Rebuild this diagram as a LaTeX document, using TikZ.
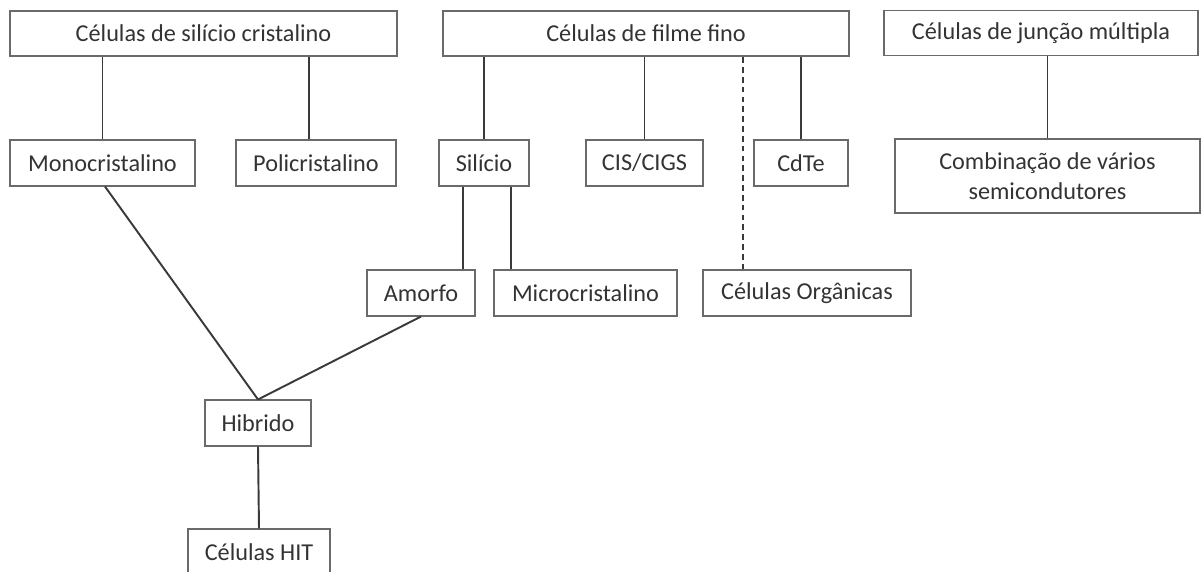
\documentclass[tikz,border=0pt]{standalone}
\usepackage{fontspec}
\setmainfont{Carlito}
\usepackage{xcolor}
\definecolor{boxline}{HTML}{6A6A6A}
\definecolor{edgeline}{HTML}{3A3A3A}
\definecolor{txt}{HTML}{333333}

\begin{document}
\begin{tikzpicture}[
		main node/.style={rectangle,draw=boxline,line width=0.6pt,inner sep=0pt,text=txt,
			minimum height=0.92cm,font=\fontsize{13.8}{17}\selectfont,align=center},
		edge/.style={draw=edgeline,line width=1.1pt}]

			\useasboundingbox (0,0) rectangle (24.02,-11.42);

			% Top level
			\node[main node,minimum width=7.74cm,minimum height=0.9cm] (crist) at (4.07,-0.67) {Células de silício cristalino};
			\node[main node,minimum width=8.12cm,minimum height=0.9cm] (fino) at (12.92,-0.67) {Células de filme fino};
			\node[main node,minimum width=6.28cm,minimum height=0.9cm] (juncao) at (20.82,-0.66) {Células de junção múltipla};

			% Second level
			\node[main node,minimum width=3.70cm] (mono) at (2.05,-3.26) {Monocristalino};
			\node[main node,minimum width=3.20cm] (poli) at (6.32,-3.26) {Policristalino};
			\node[main node,minimum width=1.80cm] (silicio) at (9.68,-3.26) {Silício};
			\node[main node,minimum width=2.34cm] (cis) at (12.89,-3.26) {CIS/CIGS};
			\node[main node,minimum width=1.88cm] (cdte) at (16.02,-3.26) {CdTe};
			\node[main node,minimum width=6.10cm,minimum height=1.48cm] (comb) at (20.95,-3.52) {Combinação de vários\\semicondutores};

			% Third level
			\node[main node,minimum width=2.16cm] (amorfo) at (8.42,-5.86) {Amorfo};
			\node[main node,minimum width=3.66cm] (micro) at (11.71,-5.86) {Microcristalino};
			\node[main node,minimum width=4.16cm] (organ) at (16.14,-5.86) {Células Orgânicas};

			% Bottom
			\node[main node,minimum width=2.12cm] (hibrido) at (5.16,-8.46) {Hibrido};
			\node[main node,minimum width=2.84cm] (hit) at (5.18,-11.04) {Células HIT};

			% Edges
			\draw[edge] (mono.north) -- (mono.north |- crist.south);
			\draw[edge] ([xshift=-0.14cm]poli.north) coordinate (p1) -- (p1 |- crist.south);
			\draw[edge] (silicio.north) -- (silicio.north |- fino.south);
			\draw[edge] (cis.north) -- (cis.north |- fino.south);
			\draw[edge] (cdte.north) -- (cdte.north |- fino.south);
			\draw[edge,dash pattern=on 3.2pt off 2.4pt] ([xshift=-1.28cm]organ.north) coordinate (p2) -- (p2 |- fino.south);
			\draw[edge] (comb.north) -- (comb.north |- juncao.south);
			\draw[edge] ([xshift=-0.42cm]silicio.south) coordinate (p3) -- (p3 |- amorfo.north);
			\draw[edge] ([xshift=0.54cm]silicio.south) coordinate (p4) -- (p4 |- micro.north);
			\draw[edge] ([xshift=0.05cm]mono.south) -- (hibrido.north);
			\draw[edge] (amorfo.south) -- (hibrido.north);
			\draw[edge] (hibrido.south) -- (hit.north);

		\end{tikzpicture}
\end{document}
